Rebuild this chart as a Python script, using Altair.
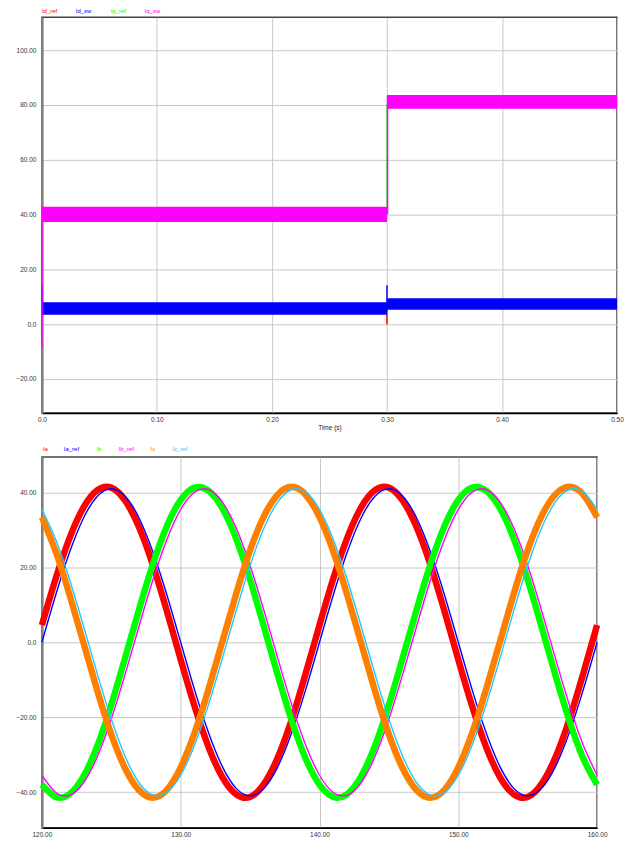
import altair as alt
import pandas as pd

FONT = "Liberation Sans"

# ---------------- Top panel data (Id / Iq currents vs time) ----------------
band_series = ["Id_sw", "Id_sw", "Iq_sw", "Iq_sw"]
band_t0 = [0.0, 0.3, 0.0, 0.3]
band_t1 = [0.3, 0.5, 0.3, 0.5]
band_lo = [3.4, 5.2, 37.3, 78.6]
band_hi = [8.0, 9.4, 42.8, 83.6]

spike_series = ["Id_ref", "Id_sw", "Id_sw", "Iq_sw", "Iq_sw"]
spike_t = [0.3, 0.0, 0.3, 0.0, 0.3005]
spike_lo = [-0.2, 3.4, 5.0, -8.7, 40.0]
spike_hi = [5.5, 14.2, 14.2, 42.8, 83.0]

ref_t = [0.0, 0.3, 0.3, 0.5]
id_ref = [5.6, 5.6, 7.3, 7.3]
iq_ref = [40.0, 40.0, 80.0, 80.0]

# ---------------- Bottom panel data (phase currents, ms) ----------------
t_ms = [120, 121, 122, 123, 124, 125, 126, 127, 128, 129,
        130, 131, 132, 133, 134, 135, 136, 137, 138, 139,
        140, 141, 142, 143, 144, 145, 146, 147, 148, 149,
        150, 151, 152, 153, 154, 155, 156, 157, 158, 159, 160]
ia = [4.6, 17.1, 27.9, 36.0, 40.6, 41.3, 37.8, 30.7, 20.6, 8.4,
      -4.6, -17.1, -27.9, -36.0, -40.6, -41.3, -37.8, -30.7, -20.6, -8.4,
      4.6, 17.1, 27.9, 36.0, 40.6, 41.3, 37.8, 30.7, 20.6, 8.4,
      -4.6, -17.1, -27.9, -36.0, -40.6, -41.3, -37.8, -30.7, -20.6, -8.4, 4.6]
ia_ref = [0.0, 12.7, 24.1, 33.2, 39.0, 41.0, 39.0, 33.2, 24.1, 12.7,
          0.0, -12.7, -24.1, -33.2, -39.0, -41.0, -39.0, -33.2, -24.1, -12.7,
          0.0, 12.7, 24.1, 33.2, 39.0, 41.0, 39.0, 33.2, 24.1, 12.7,
          0.0, -12.7, -24.1, -33.2, -39.0, -41.0, -39.0, -33.2, -24.1, -12.7, 0.0]
ib = [-38.0, -41.3, -40.5, -35.8, -27.6, -16.7, -4.1, 8.8, 20.9, 31.0,
      38.0, 41.3, 40.5, 35.8, 27.6, 16.7, 4.1, -8.8, -20.9, -31.0,
      -38.0, -41.3, -40.5, -35.8, -27.6, -16.7, -4.1, 8.8, 20.9, 31.0,
      38.0, 41.3, 40.5, 35.8, 27.6, 16.7, 4.1, -8.8, -20.9, -31.0, -38.0]
ib_ref = [-35.5, -40.1, -40.8, -37.5, -30.5, -20.5, -8.5, 4.3, 16.7, 27.4,
          35.5, 40.1, 40.8, 37.5, 30.5, 20.5, 8.5, -4.3, -16.7, -27.4,
          -35.5, -40.1, -40.8, -37.5, -30.5, -20.5, -8.5, 4.3, 16.7, 27.4,
          35.5, 40.1, 40.8, 37.5, 30.5, 20.5, 8.5, -4.3, -16.7, -27.4, -35.5]
ic = [33.4, 24.2, 12.6, -0.2, -13.0, -24.6, -33.7, -39.5, -41.5, -39.4,
      -33.4, -24.2, -12.6, 0.2, 13.0, 24.6, 33.7, 39.5, 41.5, 39.4,
      33.4, 24.2, 12.6, -0.2, -13.0, -24.6, -33.7, -39.5, -41.5, -39.4,
      -33.4, -24.2, -12.6, 0.2, 13.0, 24.6, 33.7, 39.5, 41.5, 39.4, 33.4]
ic_ref = [35.5, 27.4, 16.7, 4.3, -8.5, -20.5, -30.5, -37.5, -40.8, -40.1,
          -35.5, -27.4, -16.7, -4.3, 8.5, 20.5, 30.5, 37.5, 40.8, 40.1,
          35.5, 27.4, 16.7, 4.3, -8.5, -20.5, -30.5, -37.5, -40.8, -40.1,
          -35.5, -27.4, -16.7, -4.3, 8.5, 20.5, 30.5, 37.5, 40.8, 40.1, 35.5]

top_names = ["Id_ref", "Id_sw", "Iq_ref", "Iq_sw"]
top_colors = ["#ff0000", "#0000ff", "#00ff00", "#ff00ff"]
bot_names = ["Ia", "Ia_ref", "Ib", "Ib_ref", "Ic", "Ic_ref"]
bot_colors = ["#ff0000", "#0000ff", "#00ff00", "#ff00ff", "#ff8000", "#1ec8ff"]

top_xticks = [0.0, 0.1, 0.2, 0.3, 0.4, 0.5]
top_yticks = [-20, 0, 20, 40, 60, 80, 100]
bot_xticks = [120, 130, 140, 150, 160]
bot_yticks = [-40, -20, 0, 20, 40]

LABEL_EXPR = "datum.value == 0 ? '0.0' : format(datum.value, '.2f')"
top_color = dict(zip(top_names, top_colors))
bot_color = dict(zip(bot_names, bot_colors))


def xaxis(values, title=None, pad=3):
    kw = dict(values=values, labelExpr=LABEL_EXPR, grid=True, ticks=False,
              domainColor="#000000", domainWidth=1.5, labelPadding=pad,
              labelFlush=False)
    if title:
        kw.update(title=title, titleFontSize=6.5, titleFontWeight="normal",
                  titleFont=FONT, titlePadding=2, titleColor="#222")
    else:
        kw.update(title=None)
    return alt.Axis(**kw)


def yaxis(values):
    return alt.Axis(values=values, labelExpr=LABEL_EXPR, grid=True, ticks=False,
                    domainColor="#808080", domainWidth=2.5, labelPadding=6,
                    title=None)


def legend_layers(names, colors, xs, y):
    out = []
    for n, c, x in zip(names, colors, xs):
        out.append(
            alt.Chart(pd.DataFrame({"label": [n]}))
            .mark_text(align="left", baseline="middle", fontSize=6, font=FONT, color=c)
            .encode(x=alt.value(x), y=alt.value(y), text="label:N")
        )
    return out


# ---------------- Top chart ----------------
tx = alt.Scale(domain=[0, 0.5], nice=False, zero=False)
ty = alt.Scale(domain=[-32.5, 112], nice=False, zero=False)

bands = pd.DataFrame({"series": band_series, "t0": band_t0, "t1": band_t1,
                      "lo": band_lo, "hi": band_hi})
spikes = pd.DataFrame({"series": spike_series, "t": spike_t,
                       "lo": spike_lo, "hi": spike_hi})
refs = pd.DataFrame({"t": ref_t, "Id_ref": id_ref, "Iq_ref": iq_ref,
                     "i": list(range(len(ref_t)))})

top_layers = []
top_layers.append(
    alt.Chart(refs).mark_line(color=top_color["Id_ref"], strokeWidth=1.2).encode(
        x=alt.X("t:Q", scale=tx, axis=xaxis(top_xticks, "Time (s)", pad=3)),
        y=alt.Y("Id_ref:Q", scale=ty, axis=yaxis(top_yticks)),
        order="i:Q",
    )
)
for name in ["Id_ref", "Id_sw", "Iq_ref", "Iq_sw"]:
    if name == "Iq_ref":
        top_layers.append(
            alt.Chart(refs).mark_line(color=top_color[name], strokeWidth=1.2).encode(
                x=alt.X("t:Q", scale=tx), y=alt.Y("Iq_ref:Q", scale=ty), order="i:Q"))
    b = bands[bands.series == name]
    if len(b):
        top_layers.append(
            alt.Chart(b).mark_rect(color=top_color[name]).encode(
                x=alt.X("t0:Q", scale=tx), x2="t1:Q",
                y=alt.Y("lo:Q", scale=ty), y2="hi:Q"))
    s = spikes[spikes.series == name]
    if len(s):
        top_layers.append(
            alt.Chart(s).mark_rule(color=top_color[name], strokeWidth=1.5).encode(
                x=alt.X("t:Q", scale=tx), y=alt.Y("lo:Q", scale=ty), y2="hi:Q"))

top_layers += legend_layers(top_names, top_colors, [0, 34, 69, 103], -6)
top = alt.layer(*top_layers).properties(width=577, height=397)

# ---------------- Bottom chart ----------------
bx = alt.Scale(domain=[120, 160], nice=False, zero=False)
by = alt.Scale(domain=[-49.5, 49.5], nice=False, zero=False)

phase = pd.DataFrame({"t": t_ms, "Ia": ia, "Ia_ref": ia_ref, "Ib": ib,
                      "Ib_ref": ib_ref, "Ic": ic, "Ic_ref": ic_ref})

bot_layers = []
for k, name in enumerate(bot_names):
    noisy = not name.endswith("_ref")
    enc = dict(y=alt.Y(f"{name}:Q", scale=by))
    if k == 0:
        enc["x"] = alt.X("t:Q", scale=bx, axis=xaxis(bot_xticks, None, pad=4))
        enc["y"] = alt.Y(f"{name}:Q", scale=by, axis=yaxis(bot_yticks))
    else:
        enc["x"] = alt.X("t:Q", scale=bx)
    bot_layers.append(
        alt.Chart(phase).mark_line(
            color=bot_color[name], strokeWidth=6.5 if noisy else 1.4,
            interpolate="natural").encode(**enc)
    )
bot_layers += legend_layers(bot_names, bot_colors, [1, 22, 55, 77, 109, 131], -8)
bottom = alt.layer(*bot_layers).properties(width=557, height=372)

chart = (
    alt.vconcat(top, bottom, spacing=13)
    .resolve_scale(x="independent", y="independent")
    .properties(padding={"left": 7, "top": -2, "right": 0, "bottom": 0})
    .configure_view(stroke="#444444", strokeWidth=1.5)
    .configure_axis(labelFont=FONT, labelFontSize=6.5, labelColor="#333333",
                    gridColor="#c8c8c8", gridWidth=1)
)

chart.save("out.html", embed_options={"renderer": "svg", "actions": False})
